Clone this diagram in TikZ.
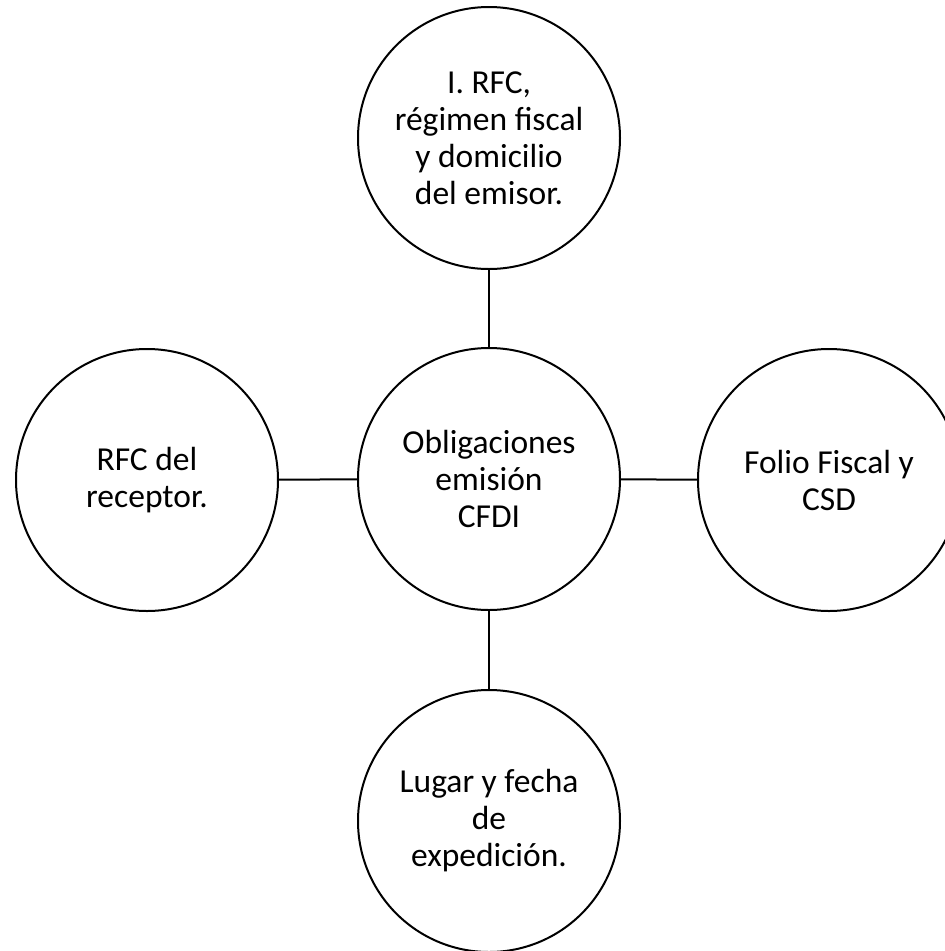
\documentclass[tikz,border=0pt]{standalone}
\usepackage{fontspec}
\setmainfont{Carlito}
\usepackage{tikz}

\begin{document}
\begin{tikzpicture}[x=1pt,y=-1pt,
    burbuja/.style={draw=black,line width=2,circle,minimum size=262pt,
      inner sep=0pt,align=center,font=\fontsize{33.5}{37}\selectfont},
    enlace/.style={draw=black,line width=2}]

    \useasboundingbox (0,0) rectangle (945,951);

    \node[burbuja] (centro) at (489,479)
    {Obligaciones\\ emisión\\ CFDI};

    \node[burbuja] (emisor) at (489,138)
    {I. RFC,\\ régimen fiscal\\ y domicilio\\ del emisor.};

    \node[burbuja] (receptor) at (147,480)
    {RFC del\\ receptor.};

    \node[burbuja] (folio) at (829,480)
    {Folio Fiscal y\\ CSD};

    \node[burbuja] (lugar) at (489,821)
    {Lugar y fecha\\ de\\ expedición.};

    \draw[enlace] (emisor) -- (centro);
    \draw[enlace] (receptor) -- (centro);
    \draw[enlace] (centro) -- (folio);
    \draw[enlace] (centro) -- (lugar);

\end{tikzpicture}
\end{document}
